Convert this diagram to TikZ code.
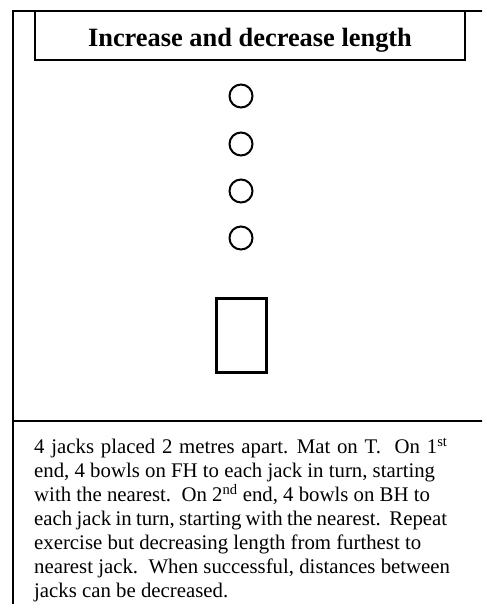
\documentclass[tikz,border=0pt]{standalone}
\usepackage{fontspec}
\setmainfont{Liberation Serif}
\tikzset{
  frame/.style={draw=black, line width=1.5pt},
  titlebox/.style={draw=black, line width=1.5pt},
  jack/.style={draw=black, line width=2pt, circle, minimum size=23pt, inner sep=0pt},
  mat/.style={draw=black, line width=2.5pt, rectangle, minimum width=50pt, minimum height=74pt, inner sep=0pt},
  titletext/.style={font=\fontsize{26.4}{30}\selectfont\bfseries, inner sep=0pt, anchor=base},
  bodytext/.style={font=\fontsize{20.8}{23.9}\selectfont, align=left, anchor=north west, inner sep=0pt}
}
\begin{document}
\begin{tikzpicture}[x=1pt, y=-1pt]
\useasboundingbox[fill=white] (0,0) rectangle (482,604);
\clip (0,0) rectangle (482,604);
% outer frame (extends beyond the visible area)
\draw[frame] (13,11) rectangle (500,620);
\draw[frame] (13,421) -- (500,421);
% title box
\draw[titlebox] (35,11) rectangle (465,60);
\node[titletext] (title) at (250,47) {Increase and decrease length};
% jacks
\node[jack] (j1) at (241,96) {};
\node[jack] (j2) at (241,144) {};
\node[jack] (j3) at (241,191) {};
\node[jack] (j4) at (241,238) {};
% mat
\node[mat] (mat) at (241.5,335.5) {};
% description
\node[bodytext] (desc) at (34,438) {{\spaceskip=6.8pt plus 1pt 4 jacks placed 2 metres apart. Mat on T.\ \ On 1\textsuperscript{st}}\\
end, 4 bowls on FH to each jack in turn, starting\\
with the nearest.\ \ On 2\textsuperscript{nd} end, 4 bowls on BH to\\
{\spaceskip=4.3pt minus 1pt each jack in turn, starting with the nearest.\ \ Repeat}\\
exercise but decreasing length from furthest to\\
nearest jack.\ \ When successful, distances between\\
jacks can be decreased.};
\end{tikzpicture}
\end{document}
